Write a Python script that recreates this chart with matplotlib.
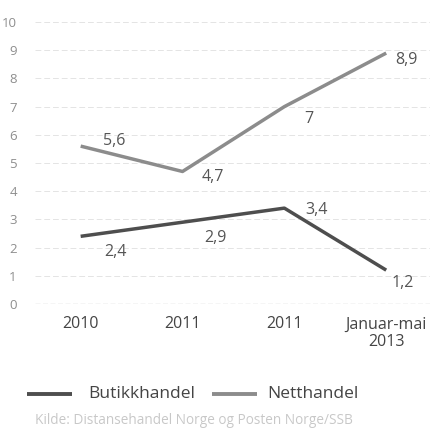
import matplotlib.pyplot as plt
import numpy as np
from matplotlib.lines import Line2D

plt.rcParams["font.family"] = ["Open Sans", "DejaVu Sans"]

categories = ["2010", "2011", "2011", "Januar-mai\n2013"]
butikkhandel = [2.4, 2.9, 3.4, 1.2]
netthandel = [5.6, 4.7, 7.0, 8.9]
butikk_labels = ["2,4", "2,9", "3,4", "1,2"]
nett_labels = ["5,6", "4,7", "7", "8,9"]
y_ticks = list(range(0, 11))

nett_color = "#8c8c8c"
butikk_color = "#4e4e4e"

fig = plt.figure(figsize=(4.3, 4.33), dpi=100)
ax = fig.add_axes([0.081, 0.298, 0.919, 0.651])

x = np.arange(len(categories))
for t in y_ticks[1:]:
    ax.axhline(t, color="#e4e4e4", lw=0.7, ls=(0, (6, 3)), zorder=0)
ax.axhline(0, color="#b4b4b4", lw=0.9, ls=(0, (4, 2)), zorder=0)

ax.plot(x, netthandel, color=nett_color, lw=2.5, solid_capstyle="butt")
ax.plot(x, butikkhandel, color=butikk_color, lw=2.5, solid_capstyle="butt")

# offsets in points from each data point
nett_offsets = [(16, 4), (14, -4), (14, -9), (6.5, -5)]
butikk_offsets = [(17, -11), (16, -11.5), (15, -1.5), (4, -9.5)]
for xi, v, lab, off in zip(x, netthandel, nett_labels, nett_offsets):
    ax.annotate(lab, (xi, v), xytext=off, textcoords="offset points",
                ha="left", va="center", fontsize=11.5, color="#555555")
for xi, v, lab, off in zip(x, butikkhandel, butikk_labels, butikk_offsets):
    ax.annotate(lab, (xi, v), xytext=off, textcoords="offset points",
                ha="left", va="center", fontsize=11.5, color="#555555")

ax.set_xlim(-0.45, 3.43)
ax.set_ylim(0, 10)
ax.set_yticks(y_ticks)
ax.set_yticklabels([str(t) for t in y_ticks], fontsize=9.5, color="#8e8e8e")
ax.set_xticks(x)
ax.set_xticklabels(categories, fontsize=11.5, color="#444444", linespacing=1.15, va="top")
ax.tick_params(axis="both", length=0)
ax.tick_params(axis="y", pad=13)
ax.tick_params(axis="x", pad=9)
for s in ax.spines.values():
    s.set_visible(False)

# legend drawn by hand
leg_y = 0.090
fig.add_artist(Line2D([0.063, 0.167], [leg_y, leg_y], color=butikk_color, lw=2.8,
                      transform=fig.transFigure, solid_capstyle="butt"))
fig.text(0.205, leg_y, "Butikkhandel", fontsize=12.5, color="#444444", va="center")
fig.add_artist(Line2D([0.493, 0.598], [leg_y, leg_y], color=nett_color, lw=2.8,
                      transform=fig.transFigure, solid_capstyle="butt"))
fig.text(0.622, leg_y, "Netthandel", fontsize=12.5, color="#444444", va="center")

fig.text(0.081, 0.030, "Kilde: Distansehandel Norge og Posten Norge/SSB",
         fontsize=9.8, color="#c8c8c8", va="center")

fig.savefig("out.png", dpi=100)
